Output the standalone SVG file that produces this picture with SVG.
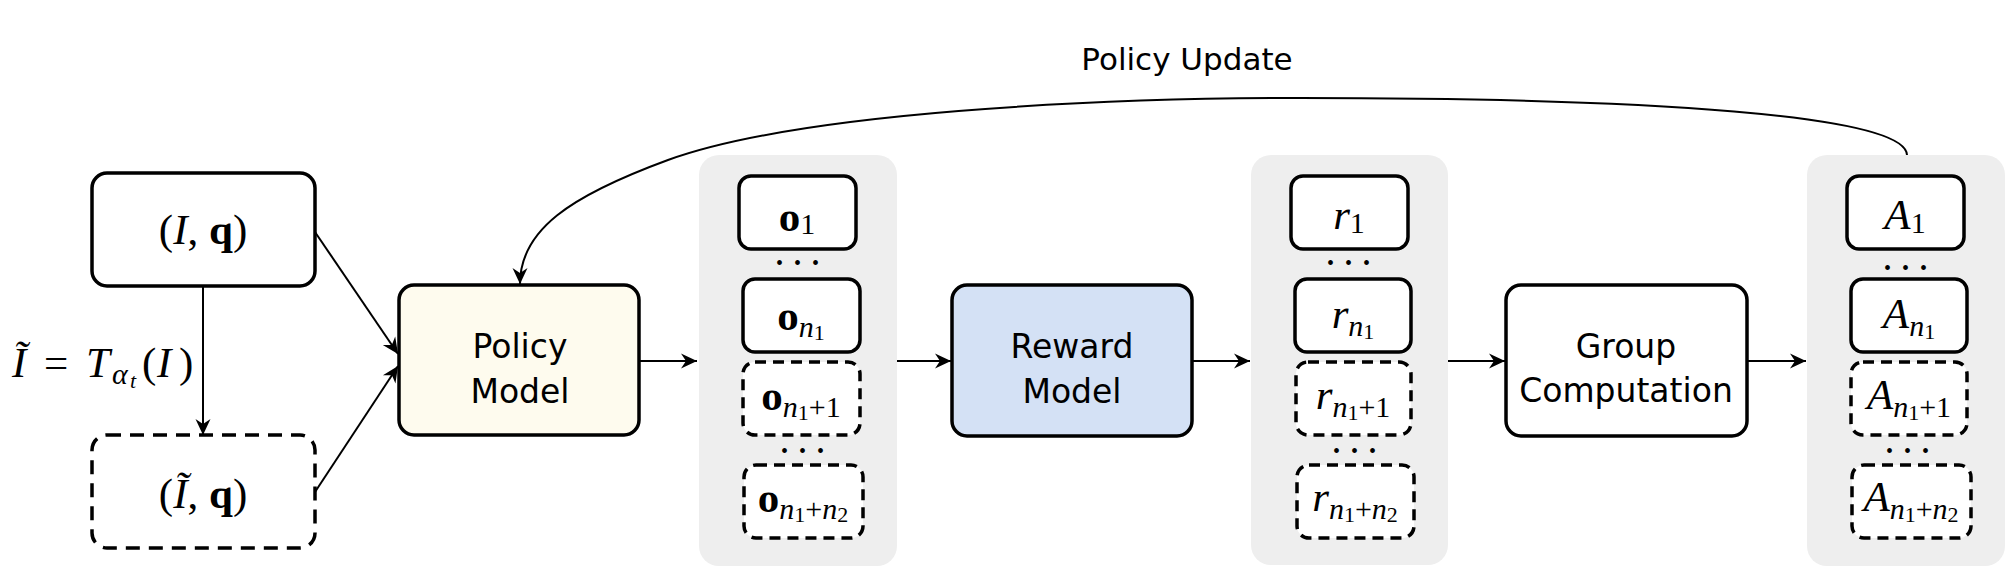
<svg xmlns="http://www.w3.org/2000/svg" width="2016" height="584" viewBox="0 0 2016 584">
<defs>
<marker id="arr" viewBox="-17 -8 18 16" refX="0" refY="0" markerWidth="18" markerHeight="16" orient="auto" markerUnits="userSpaceOnUse">
<path d="M0,0 L-16,-7.5 L-11,0 L-16,7.5 Z" fill="#000"/>
</marker>
<style>
.box{stroke:#000;stroke-width:3.5;fill:#fff}
.dash{stroke-dasharray:11 7}
.panel{fill:#eeeeee;stroke:none}
.conn{stroke:#000;stroke-width:2;fill:none;marker-end:url(#arr)}
.curve{stroke:#000;stroke-width:2;fill:none}
.lbl{font-family:'DejaVu Sans',sans-serif;font-size:33px;text-anchor:middle;fill:#000}
.m{font-family:'Liberation Serif',serif;font-size:43px;text-anchor:middle;fill:#000}
.it{font-style:italic}
.bf{font-weight:bold}
.s{font-size:30px}
.ss{font-size:22px}
.dots{font-family:'Liberation Serif',serif;font-size:20px;letter-spacing:11px;text-anchor:middle;fill:#000}
</style>
</defs>

<g id="connectors">
<line class="conn" x1="315" y1="232" x2="398" y2="354"/>
<line class="conn" x1="315" y1="492" x2="398" y2="366"/>
<line class="conn" x1="203" y1="286" x2="203" y2="435"/>
<line class="conn" x1="639" y1="361" x2="697" y2="361"/>
<line class="conn" x1="897" y1="361" x2="951" y2="361"/>
<line class="conn" x1="1192" y1="361" x2="1250" y2="361"/>
<line class="conn" x1="1448" y1="361" x2="1505" y2="361"/>
<line class="conn" x1="1747" y1="361" x2="1806" y2="361"/>
<path class="curve" d="M1907,155 C1905,115 1650,98 1300,98 C1100,98 800,112 668,160 C570,196 520,230 520,284" marker-end="url(#arr)"/>
</g>

<g id="policy-update-label">
<text class="lbl" x="1187" y="70" style="font-size:31px">Policy Update</text>
</g>

<g id="input">
<rect class="box" x="92" y="173" width="223" height="113" rx="15"/>
<text class="m" x="203" y="244">(<tspan class="it">I</tspan>, <tspan class="bf">q</tspan>)</text>
</g>

<g id="transform-label">
<text class="m" x="12" y="377" style="text-anchor:start;font-size:43px"><tspan class="it">Ĩ</tspan><tspan x="44">=</tspan><tspan x="86" class="it">T</tspan><tspan x="112" dy="7" class="it s">α</tspan><tspan x="130" dy="4" class="it ss">t</tspan><tspan x="142" dy="-11">(</tspan><tspan x="157" class="it">I</tspan><tspan x="179">)</tspan></text>
</g>

<g id="augmented-input">
<rect class="box dash" x="92" y="435" width="223" height="113" rx="15" style="stroke-dasharray:14 9"/>
<text class="m" x="203" y="508">(<tspan class="it">Ĩ</tspan>, <tspan class="bf">q</tspan>)</text>
</g>

<g id="policy-model">
<rect class="box" x="399" y="285" width="240" height="150" rx="15" style="fill:#fefbee"/>
<text class="lbl" x="520" y="358">Policy</text>
<text class="lbl" x="520" y="403">Model</text>
</g>

<g id="outputs">
<rect class="panel" x="699" y="155" width="198" height="411" rx="20"/>
<rect class="box" x="739" y="176" width="117" height="73" rx="12"/>
<text class="m" x="797" y="231"><tspan class="bf">o</tspan><tspan dy="3" class="s">1</tspan></text>
<text class="dots" x="803" y="270">•••</text>
<rect class="box" x="743" y="279" width="117" height="73" rx="12"/>
<text class="m" x="801" y="330"><tspan class="bf">o</tspan><tspan dy="7" class="it s">n</tspan><tspan dy="3" class="ss">1</tspan></text>
<rect class="box dash" x="743" y="362" width="117" height="73" rx="12"/>
<text class="m" x="801" y="410"><tspan class="bf">o</tspan><tspan dy="7" class="it s">n</tspan><tspan dy="3" class="ss">1</tspan><tspan dy="-3" class="s">+1</tspan></text>
<text class="dots" x="808" y="458">•••</text>
<rect class="box dash" x="744" y="465" width="119" height="73" rx="12"/>
<text class="m" x="803" y="512"><tspan class="bf">o</tspan><tspan dy="7" class="it s">n</tspan><tspan dy="3" class="ss">1</tspan><tspan dy="-3" class="s">+</tspan><tspan class="it s">n</tspan><tspan dy="3" class="ss">2</tspan></text>
</g>

<g id="reward-model">
<rect class="box" x="952" y="285" width="240" height="151" rx="15" style="fill:#d4e1f5"/>
<text class="lbl" x="1072" y="358">Reward</text>
<text class="lbl" x="1072" y="403">Model</text>
</g>

<g id="rewards">
<rect class="panel" x="1251" y="155" width="197" height="410" rx="20"/>
<rect class="box" x="1291" y="176" width="117" height="73" rx="12"/>
<text class="m" x="1349" y="229"><tspan class="it">r</tspan><tspan dy="4" class="s">1</tspan></text>
<text class="dots" x="1354" y="270">•••</text>
<rect class="box" x="1295" y="279" width="116" height="73" rx="12"/>
<text class="m" x="1353" y="328"><tspan class="it">r</tspan><tspan dy="8" class="it s">n</tspan><tspan dy="3" class="ss">1</tspan></text>
<rect class="box dash" x="1296" y="362" width="115" height="73" rx="12"/>
<text class="m" x="1353" y="409"><tspan class="it">r</tspan><tspan dy="8" class="it s">n</tspan><tspan dy="3" class="ss">1</tspan><tspan dy="-3" class="s">+1</tspan></text>
<text class="dots" x="1360" y="458">•••</text>
<rect class="box dash" x="1297" y="465" width="117" height="73" rx="12"/>
<text class="m" x="1355" y="511"><tspan class="it">r</tspan><tspan dy="8" class="it s">n</tspan><tspan dy="3" class="ss">1</tspan><tspan dy="-3" class="s">+</tspan><tspan class="it s">n</tspan><tspan dy="3" class="ss">2</tspan></text>
</g>

<g id="group-computation">
<rect class="box" x="1506" y="285" width="241" height="151" rx="15"/>
<text class="lbl" x="1626" y="358">Group</text>
<text class="lbl" x="1626" y="402">Computation</text>
</g>

<g id="advantages">
<rect class="panel" x="1807" y="155" width="198" height="411" rx="20"/>
<rect class="box" x="1847" y="176" width="117" height="73" rx="12"/>
<text class="m" x="1905" y="229"><tspan class="it">A</tspan><tspan dy="4" class="s">1</tspan></text>
<text class="dots" x="1911" y="275">•••</text>
<rect class="box" x="1851" y="279" width="116" height="73" rx="12"/>
<text class="m" x="1909" y="328"><tspan class="it">A</tspan><tspan dy="8" class="it s">n</tspan><tspan dy="3" class="ss">1</tspan></text>
<rect class="box dash" x="1851" y="362" width="116" height="73" rx="12"/>
<text class="m" x="1909" y="409"><tspan class="it">A</tspan><tspan dy="8" class="it s">n</tspan><tspan dy="3" class="ss">1</tspan><tspan dy="-3" class="s">+1</tspan></text>
<text class="dots" x="1913" y="458">•••</text>
<rect class="box dash" x="1852" y="465" width="119" height="73" rx="12"/>
<text class="m" x="1911" y="511"><tspan class="it">A</tspan><tspan dy="8" class="it s">n</tspan><tspan dy="3" class="ss">1</tspan><tspan dy="-3" class="s">+</tspan><tspan class="it s">n</tspan><tspan dy="3" class="ss">2</tspan></text>
</g>
</svg>
